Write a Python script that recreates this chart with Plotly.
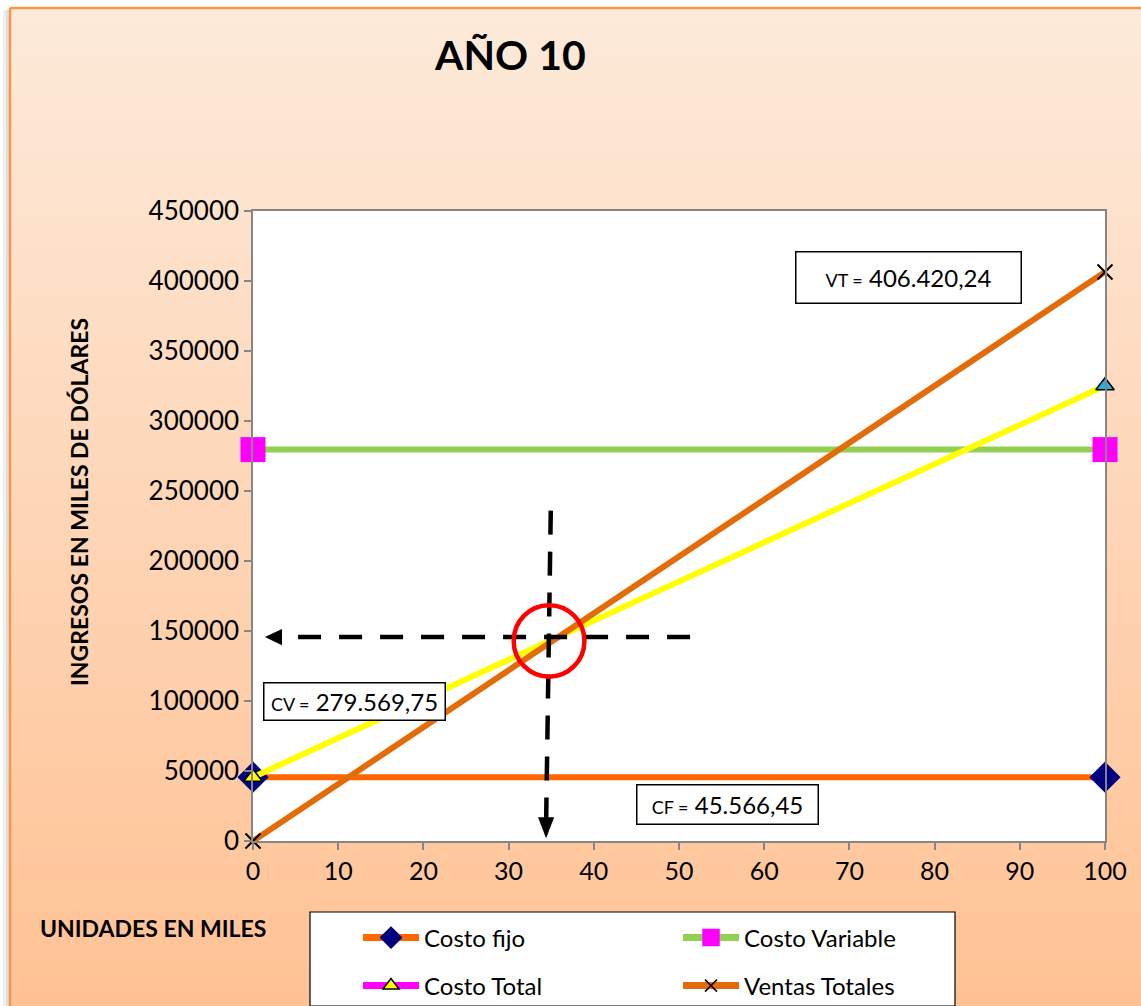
import plotly.graph_objects as go

W, H = 1141, 1006
FONT = "Lato"

# ---- data -------------------------------------------------------------
units = [0, 100]                      # unidades en miles
costo_fijo = [45566.45, 45566.45]
costo_variable = [279569.75, 279569.75]
costo_total = [45566.45, 325136.20]
ventas_totales = [0, 406420.24]

x_ticks = [0, 10, 20, 30, 40, 50, 60, 70, 80, 90, 100]
y_ticks = [0, 50000, 100000, 150000, 200000, 250000, 300000, 350000, 400000, 450000]

# punto de equilibrio señalado en el gráfico
be_units = 34.7
be_value = 145700
be_top = 236000

# etiquetas de valores
label_vt = ("VT =", "406.420,24")
label_cv = ("CV =", "279.569,75")
label_cf = ("CF =", "45.566,45")


def px(x):
    return x / W


def py(y):
    return 1 - y / H


# plot area in pixels
PL, PR, PT, PB = 253, 1105, 211, 841

fig = go.Figure()

# ---- series ----------------------------------------------------------
fig.add_trace(go.Scatter(
    x=units, y=costo_fijo, mode="lines+markers", name="Costo fijo", showlegend=False,
    line=dict(color="#FF6600", width=6),
    marker=dict(symbol="diamond", size=24, color="#000080"), cliponaxis=False))
fig.add_trace(go.Scatter(
    x=units, y=costo_variable, mode="lines+markers", name="Costo Variable", showlegend=False,
    line=dict(color="#92D050", width=6),
    marker=dict(symbol="square", size=25, color="#FF00FF"), cliponaxis=False))
fig.add_trace(go.Scatter(
    x=units, y=costo_total, mode="lines+markers", name="Costo Total", showlegend=False,
    line=dict(color="#FFFF00", width=6),
    marker=dict(symbol="triangle-up", size=16, color=["#FFFF00", "#1FB4E8"],
                line=dict(color="#000000", width=1.5)), cliponaxis=False))
fig.add_trace(go.Scatter(
    x=units, y=ventas_totales, mode="lines+markers", name="Ventas Totales", showlegend=False,
    line=dict(color="#E36C09", width=6),
    marker=dict(symbol="x-thin", size=15, color="#000000",
                line=dict(color="#000000", width=2)), cliponaxis=False))

# ---- legend entries ------------------------------------------------------
legend_items = [
    ("Costo fijo", "#FF6600", "diamond", 17, "#000080", "#000080", "legend"),
    ("Costo Variable", "#92D050", "square", 19, "#FF00FF", "#FF00FF", "legend"),
    ("Costo Total", "#FF00FF", "triangle-up", 14, "#FFFF00", "#000000", "legend2"),
    ("Ventas Totales", "#E36C09", "x-thin", 12, "#000000", "#000000", "legend2"),
]
for name, lc, sym, size, mc, mlc, lg in legend_items:
    fig.add_trace(go.Scatter(
        x=[None], y=[None], mode="lines+markers", name=name, legend=lg,
        line=dict(color=lc, width=7),
        marker=dict(symbol=sym, size=size, color=mc, line=dict(color=mlc, width=1.5))))

shapes = []

# background gradient of the chart area
top_rgb = (253, 234, 218)
bot_rgb = (255, 194, 148)
n = 120
y0, y1 = 8, H
for i in range(n):
    t = i / (n - 1)
    c = tuple(round(a + (b - a) * t) for a, b in zip(top_rgb, bot_rgb))
    ya = y0 + (y1 - y0) * i / n
    yb = min(H, y0 + (y1 - y0) * (i + 1) / n + 1)
    shapes.append(dict(type="rect", xref="paper", yref="paper", layer="below",
                       x0=px(10), x1=1, y0=py(ya), y1=py(yb),
                       fillcolor="rgb(%d,%d,%d)" % c, line=dict(width=0)))

# soft shadow left of the frame
shapes.append(dict(type="rect", xref="paper", yref="paper", layer="below",
                   x0=px(3), x1=px(9), y0=py(10), y1=0,
                   fillcolor="#EFEFEF", line=dict(width=0)))
shapes.append(dict(type="rect", xref="paper", yref="paper", layer="below",
                   x0=px(6), x1=px(9), y0=py(10), y1=0,
                   fillcolor="#E0E0E0", line=dict(width=0)))

# chart frame (top and left edges)
shapes.append(dict(type="line", xref="paper", yref="paper", layer="below",
                   x0=px(10), x1=1, y0=py(8), y1=py(8),
                   line=dict(color="#F79646", width=2.5)))
shapes.append(dict(type="line", xref="paper", yref="paper", layer="below",
                   x0=px(10), x1=px(10), y0=py(8), y1=0,
                   line=dict(color="#F79646", width=2.5)))

# plot area
shapes.append(dict(type="rect", xref="paper", yref="paper", layer="below",
                   x0=px(PL), x1=px(PR), y0=py(PT), y1=py(PB),
                   fillcolor="#FFFFFF", line=dict(width=0)))

# legend box
shapes.append(dict(type="path", xref="paper", yref="paper", layer="below",
                   path="M %f,0 L %f,%f L %f,%f L %f,0 Z" % (px(310), px(310), py(912),
                                                              px(955), py(912), px(955)),
                   fillcolor="#FFFFFF", line=dict(color="#000000", width=1.2)))

# break-even guides
shapes.append(dict(type="line", xref="x", yref="y", layer="above",
                   x0=be_units + 0.25, y0=be_top, x1=be_units - 0.3, y1=12000,
                   line=dict(color="#000000", width=4.5, dash="24px,17px")))
shapes.append(dict(type="line", xref="x", yref="y", layer="above",
                   x0=51.3, y0=be_value, x1=3.0, y1=be_value,
                   line=dict(color="#000000", width=4.5, dash="23px,18px")))
# arrow heads
ax_tip, ay_tip = be_units - 0.3, 2000
shapes.append(dict(type="path", xref="x", yref="y", layer="above",
                   path="M %f,%f L %f,%f L %f,%f Z" % (ax_tip, ay_tip, ax_tip - 0.95, ay_tip + 15000,
                                                       ax_tip + 0.95, ay_tip + 15000),
                   fillcolor="#000000", line=dict(width=0)))
shapes.append(dict(type="path", xref="x", yref="y", layer="above",
                   path="M %f,%f L %f,%f L %f,%f Z" % (1.4, be_value, 3.4, be_value + 5800,
                                                       3.4, be_value - 5800),
                   fillcolor="#000000", line=dict(width=0)))
# circle on the break-even point
rx, ry = 4.15, 25500
shapes.append(dict(type="circle", xref="x", yref="y", layer="above",
                   x0=be_units + 0.05 - rx, x1=be_units + 0.05 + rx,
                   y0=be_value - 2800 - ry, y1=be_value - 2800 + ry,
                   line=dict(color="#FF0000", width=4.5)))

annotations = [
    dict(text="<b>AÑO 10</b>", xref="paper", yref="paper", x=px(510), y=py(55),
         xanchor="center", yanchor="middle", showarrow=False,
         font=dict(family=FONT, size=41, color="#000000")),
    dict(text="<b>INGRESOS EN MILES DE DÓLARES</b>", xref="paper", yref="paper",
         x=px(79), y=py(502), xanchor="center", yanchor="middle", textangle=-90,
         showarrow=False, font=dict(family=FONT, size=23, color="#000000")),
    dict(text="<b>UNIDADES EN MILES</b>", xref="paper", yref="paper", x=px(153), y=py(928),
         xanchor="center", yanchor="middle", showarrow=False,
         font=dict(family=FONT, size=23, color="#000000")),
]


def value_box(parts, cx, cy, w, h):
    return dict(text="<span style='font-size:18px'>%s</span> %s" % parts,
                xref="paper", yref="paper", x=px(cx), y=py(cy),
                xanchor="center", yanchor="middle", showarrow=False,
                width=w, height=h, bgcolor="#FFFFFF", bordercolor="#000000", borderwidth=1.5,
                font=dict(family=FONT, size=24, color="#000000"))


annotations.append(value_box(label_vt, 908, 277, 222, 48))
annotations.append(value_box(label_cv, 354, 701, 178, 34))
annotations.append(value_box(label_cf, 727, 804, 178, 36))

fig.update_layout(
    width=W, height=H,
    margin=dict(l=0, r=0, t=0, b=0, autoexpand=False),
    paper_bgcolor="#FFFFFF",
    plot_bgcolor="rgba(0,0,0,0)",
    shapes=shapes,
    annotations=annotations,
    legend=dict(x=px(358), y=py(938), xanchor="left", yanchor="middle", orientation="h",
                entrywidth=249, entrywidthmode="pixels", bgcolor="rgba(0,0,0,0)",
                font=dict(family=FONT, size=24, color="#000000"), itemwidth=56),
    legend2=dict(x=px(358), y=py(986), xanchor="left", yanchor="middle", orientation="h",
                 entrywidth=249, entrywidthmode="pixels", bgcolor="rgba(0,0,0,0)",
                 font=dict(family=FONT, size=24, color="#000000"), itemwidth=56),
    xaxis=dict(domain=[px(PL), px(PR)], range=[0, 100], tickvals=x_ticks,
               showgrid=False, zeroline=False, showline=True, mirror=True,
               linecolor="#868686", linewidth=1.5, ticks="outside", ticklen=7,
               tickcolor="#868686", tickwidth=1.5,
               tickfont=dict(family=FONT, size=25, color="#000000")),
    yaxis=dict(domain=[py(PB), py(PT)], range=[0, 450000], tickvals=y_ticks,
               ticktext=[str(v) for v in y_ticks],
               showgrid=False, zeroline=False, showline=True, mirror=True,
               linecolor="#868686", linewidth=1.5, ticks="outside", ticklen=7,
               tickcolor="#868686", tickwidth=1.5,
               tickfont=dict(family=FONT, size=26, color="#000000")),
)

fig.write_html("out.html")
